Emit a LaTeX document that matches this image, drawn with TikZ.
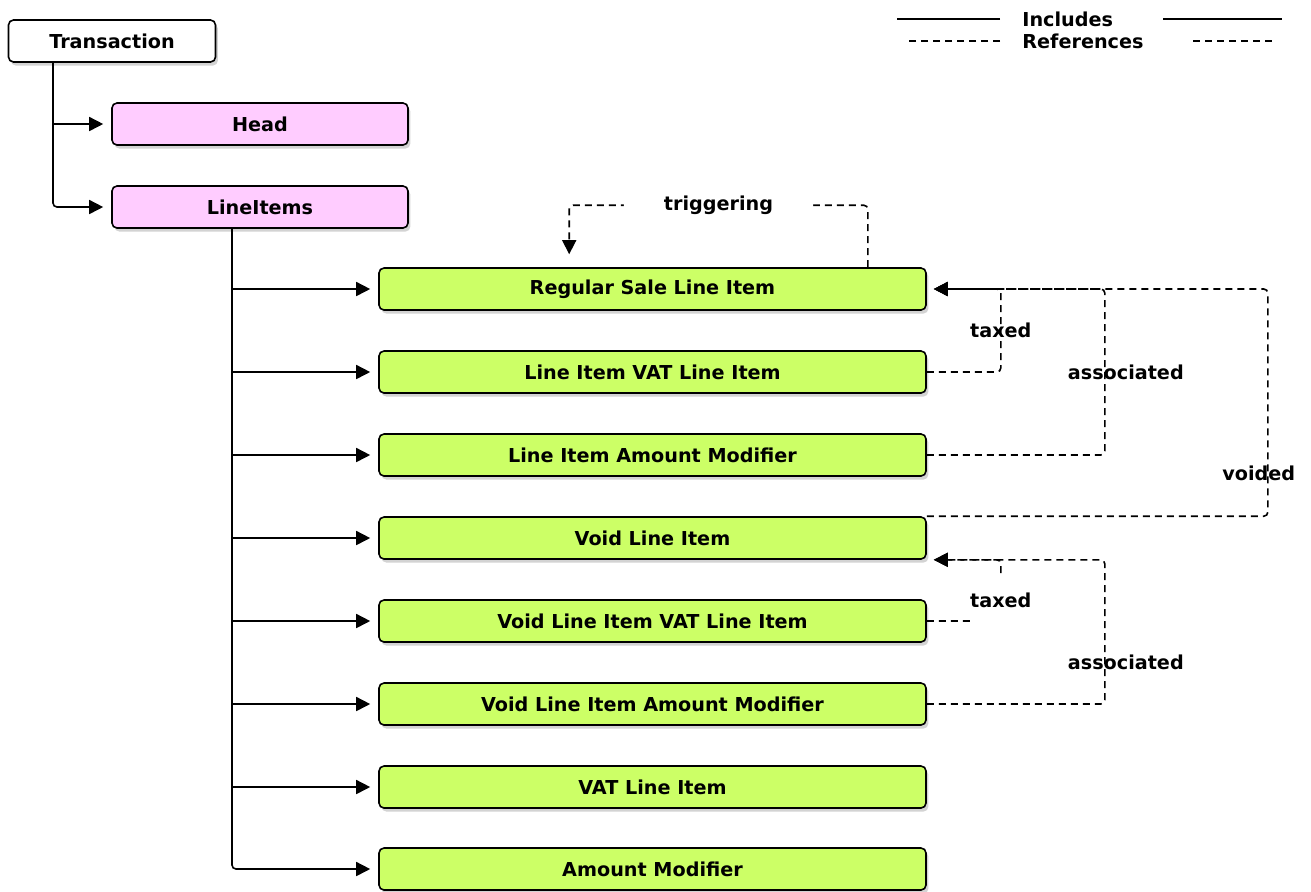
\documentclass[tikz,border=0pt]{standalone}
\usepackage{fontspec}
\setmainfont{DejaVu Sans}
\usetikzlibrary{arrows.meta,shadows}

\definecolor{partpink}{RGB}{255,204,255}
\definecolor{itemgreen}{RGB}{204,255,102}

\tikzset{
  box/.style={draw,line width=0.8pt,rounded corners=2.5pt,minimum height=21pt,inner sep=0pt,
    drop shadow={shadow xshift=1.2pt,shadow yshift=-1.8pt,opacity=0.35}},
  rootbox/.style={box,fill=white,minimum width=103.5pt},
  partbox/.style={box,fill=partpink,minimum width=148pt},
  itembox/.style={box,fill=itemgreen,minimum width=273.5pt},
  incl/.style={line width=0.8pt,rounded corners=2pt,-{Triangle[length=7pt,width=7pt]},shorten >=4pt},
  refline/.style={incl,dash pattern=on 3.5pt off 2.5pt,shorten >=3.5pt},
}

\begin{document}
\begin{tikzpicture}[x=0.5pt,y=-0.5pt,font=\fontsize{9.6}{11}\selectfont\bfseries]
  \useasboundingbox (0,0) rectangle (1311,891);

  \node[anchor=west,inner sep=0pt] (inc) at (1022,19) {Includes};
  \node[anchor=west,inner sep=0pt] (refs) at (1022,41) {References};
  \draw[line width=0.8pt] ([xshift=-11pt]inc.west) -- ++(-103,0);
  \draw[line width=0.8pt] ([xshift=70.5pt]inc.west) -- ++(119,0);
  \draw[line width=0.8pt,dash pattern=on 3.5pt off 2.5pt] ([xshift=-11pt]refs.west) -- ++(-95,0);
  \draw[line width=0.8pt,dash pattern=on 3.5pt off 2.5pt] ([xshift=85.5pt]refs.west) -- ++(82,0);

  \node[rootbox] (trans) at (112,41) {Transaction};
  \node[partbox] (head) at (260,124) {Head};
  \node[partbox] (items) at (260,207) {LineItems};
  \node[itembox] (regular) at (652.5,289) {Regular Sale Line Item};
  \node[itembox] (vat) at (652.5,372) {Line Item VAT Line Item};
  \node[itembox] (amount) at (652.5,455) {Line Item Amount Modifier};
  \node[itembox] (void) at (652.5,538) {Void Line Item};
  \node[itembox] (voidvat) at (652.5,621) {Void Line Item VAT Line Item};
  \node[itembox] (voidamount) at (652.5,704) {Void Line Item Amount Modifier};
  \node[itembox] (vatitem) at (652.5,787) {VAT Line Item};
  \node[itembox] (modifier) at (652.5,869) {Amount Modifier};

  \coordinate (ttrunk) at ([xshift=-29.5pt]trans.south);
  \draw[incl] (ttrunk |- head.west) -- (head.west);
  \draw[incl] (ttrunk) |- (items.west);

  \coordinate (itrunk) at ([xshift=-14pt]items.south);
  \foreach \n in {regular,vat,amount,void,voidvat,voidamount,vatitem}
    \draw[incl] (itrunk |- \n.west) -- (\n.west);
  \draw[incl] (itrunk) |- (modifier.west);

  \draw[refline,shorten >=6.5pt] ([xshift=-29.5pt]regular.north east) -- ++(0,-62)
    -| node[pos=0.25,fill=white,inner xsep=20pt]{triggering} ([xshift=95.5pt]regular.north west);
  \draw[refline] (vat.east) -- ++(74,0) |- node[pos=0.25]{taxed} (regular.east);
  \draw[refline] (amount.east) -- ++(178,0) |- node[pos=0.25,xshift=10.5pt]{associated} (regular.east);
  \draw[refline] (void.north east) -- ++(341,0) |- node[pos=0.095,xshift=-4.5pt]{voided} (regular.east);
  \draw[refline] (voidvat.east) -- ++(74,0) |- node[pos=0.17,fill=white,inner xsep=0pt,inner ysep=8pt]{taxed} (void.south east);
  \draw[refline] (voidamount.east) -- ++(178,0) |- node[pos=0.145,xshift=10.5pt]{associated} (void.south east);
\end{tikzpicture}
\end{document}
